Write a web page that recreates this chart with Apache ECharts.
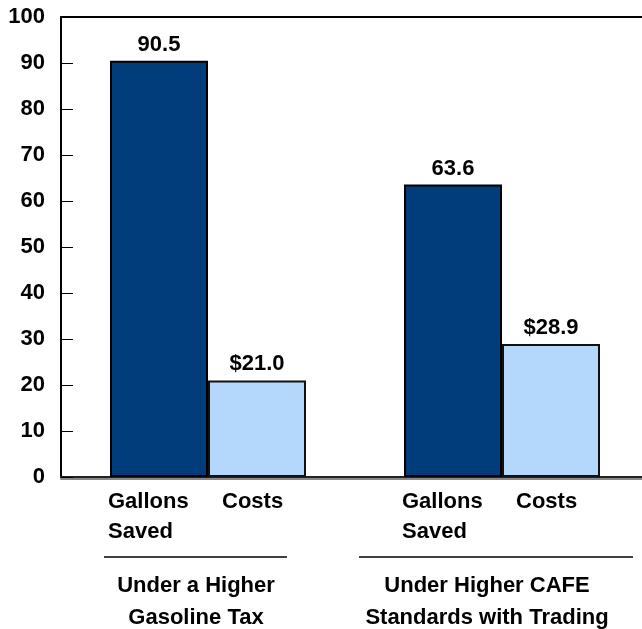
<!DOCTYPE html>
<html>
<head>
<meta charset="utf-8">
<script src="https://cdn.jsdelivr.net/npm/echarts@6/dist/echarts.min.js"></script>
<style>
  html, body { margin: 0; padding: 0; background: #fff; }
  #chart { width: 642px; height: 629px; }
</style>
</head>
<body>
<div id="chart"></div>
<script>
// data
var groups = ['Under a Higher\nGasoline Tax', 'Under Higher CAFE\nStandards with Trading'];
var barNames = ['Gallons\nSaved', 'Costs'];
var gallonsSaved = [90.5, 63.6];
var costs = [21.0, 28.9];
var yTicks = [0, 10, 20, 30, 40, 50, 60, 70, 80, 90, 100];

var FONT = "'Liberation Sans', Arial, sans-serif";
var FONT_SIZE = 22;
var BAR_W = 98;

var chart = echarts.init(document.getElementById('chart'), null, { renderer: 'canvas' });

var boldText = { fontFamily: FONT, fontWeight: 'bold', fontSize: FONT_SIZE, color: '#000' };
var boldFont = 'bold ' + FONT_SIZE + 'px ' + FONT;

var option = {
  backgroundColor: '#ffffff',
  animation: false,
  grid: { left: 61, top: 17, right: -7, height: 460, outerBoundsMode: 'none', containLabel: false },
  xAxis: [{
    type: 'category',
    data: groups,
    axisLine: { lineStyle: { color: '#222', width: 2, shadowColor: '#888', shadowOffsetY: 2 } },
    axisTick: { show: false },
    axisLabel: { show: false }
  }, {
    // top frame line
    type: 'category',
    data: groups,
    position: 'top',
    axisLine: { lineStyle: { color: '#000', width: 2 } },
    axisTick: { show: false },
    axisLabel: { show: false }
  }],
  yAxis: {
    type: 'value',
    min: yTicks[0],
    max: yTicks[yTicks.length - 1],
    interval: 10,
    axisLine: { show: true, lineStyle: { color: '#000', width: 2 } },
    axisTick: { show: true, inside: true, length: 12, lineStyle: { color: '#000', width: 1 } },
    splitLine: { show: false },
    axisLabel: Object.assign({ margin: 16 }, boldText)
  },
  series: [{
    name: 'Gallons Saved',
    type: 'bar',
    data: gallonsSaved,
    barWidth: BAR_W,
    barGap: '0%',
    itemStyle: { color: '#003D7A', borderColor: '#000', borderWidth: 2 },
    label: Object.assign({ show: true, position: 'top', distance: 5, formatter: function (p) { return p.value.toFixed(1); } }, boldText)
  }, {
    name: 'Costs',
    type: 'bar',
    data: costs,
    barWidth: BAR_W,
    barGap: '0%',
    itemStyle: { color: '#B3D8FC', borderColor: '#111', borderWidth: 2 },
    label: Object.assign({ show: true, position: 'top', distance: 5, formatter: function (p) { return '$' + p.value.toFixed(1); } }, boldText)
  }]
};

chart.setOption(option);

// labels under bars and group captions, placed from the category axis
var ruleSpans = [[-104, 79], [-143, 131]];
var captionShift = [-12, -15];
var baseY = chart.convertToPixel({ yAxisIndex: 0 }, 0);
var gfx = [];
groups.forEach(function (g, i) {
  var cx = chart.convertToPixel({ xAxisIndex: 0 }, g);
  gfx.push({
    type: 'text', left: cx - BAR_W - 2, top: baseY + 10,
    style: { text: barNames[0], lineHeight: 30, fill: '#000', font: boldFont }
  });
  gfx.push({
    type: 'text', left: cx + 14, top: baseY + 10,
    style: { text: barNames[1], lineHeight: 30, fill: '#000', font: boldFont }
  });
  gfx.push({
    type: 'line',
    shape: { x1: cx + ruleSpans[i][0], y1: baseY + 80, x2: cx + ruleSpans[i][1], y2: baseY + 80 },
    style: { stroke: '#000', lineWidth: 1.5 }
  });
  gfx.push({
    type: 'text', x: cx + captionShift[i], y: baseY + 93,
    style: { text: g, lineHeight: 32, fill: '#000', font: boldFont, align: 'center', verticalAlign: 'top' }
  });
});
chart.setOption({ graphic: gfx });
</script>
</body>
</html>
